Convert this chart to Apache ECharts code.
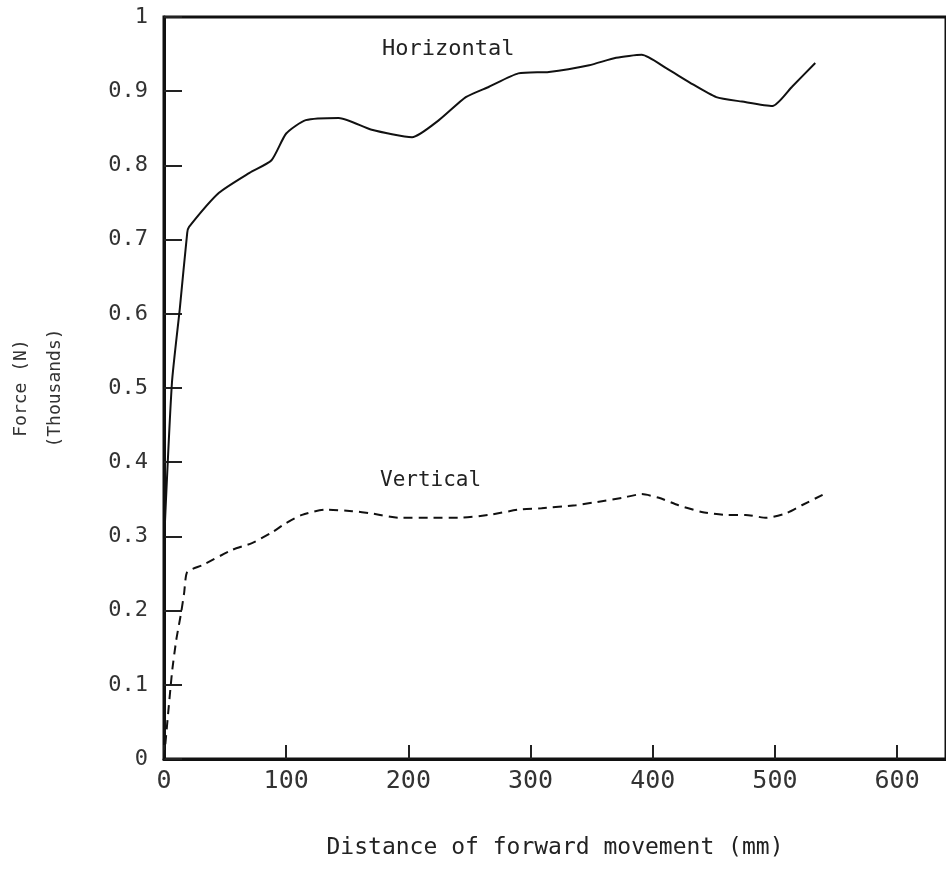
<!DOCTYPE html>
<html>
<head>
<meta charset="utf-8">
<script src="https://cdn.jsdelivr.net/npm/echarts@6/dist/echarts.min.js"></script>
<style>html,body{margin:0;padding:0;background:#fff;}#c{width:946px;height:869px;}</style>
</head>
<body>
<div id="c"></div>
<script>
const xTicks = [0, 100, 200, 300, 400, 500, 600];
const yTicks = [0, 0.1, 0.2, 0.3, 0.4, 0.5, 0.6, 0.7, 0.8, 0.9, 1];
const horizontalX = [0, 6.5, 13, 19, 20.5, 45, 70, 88, 100, 116, 143, 170, 203, 225, 247, 266, 290, 315, 348, 370, 391, 411, 430, 452, 473, 498, 514, 533];
const horizontalY = [0.29, 0.507, 0.608, 0.709, 0.717, 0.763, 0.79, 0.807, 0.843, 0.861, 0.864, 0.848, 0.838, 0.861, 0.892, 0.906, 0.924, 0.926, 0.935, 0.945, 0.949, 0.931, 0.912, 0.892, 0.886, 0.880, 0.906, 0.938];
const verticalX = [0, 6.5, 10, 14, 16.5, 19, 31, 56, 72, 88, 100, 113, 132, 154, 170, 192, 219, 241, 266, 290, 309, 337, 353, 375, 391, 405, 421, 440, 460, 476, 493, 509, 522, 539];
const verticalY = [0, 0.116, 0.16, 0.197, 0.224, 0.252, 0.261, 0.282, 0.291, 0.305, 0.318, 0.329, 0.336, 0.334, 0.331, 0.325, 0.325, 0.325, 0.329, 0.336, 0.338, 0.342, 0.346, 0.352, 0.357, 0.352, 0.342, 0.333, 0.329, 0.329, 0.325, 0.331, 0.342, 0.356];
const seriesNames = ['Horizontal', 'Vertical'];
const xTitle = 'Distance of forward movement (mm)';
const yTitle = 'Force (N)\n(Thousands)';

const hData = horizontalX.map((x, i) => [x, horizontalY[i]]);
const vData = verticalX.map((x, i) => [x, verticalY[i]]);

const chart = echarts.init(document.getElementById('c'), null, {renderer: 'canvas'});
const font = 'DejaVu Sans Mono';
chart.setOption({
  animation: false,
  backgroundColor: '#fff',
  grid: {left: 164, right: 0, top: 17, bottom: 110, outerBoundsMode: 'none', containLabel: false,
         show: true, borderColor: '#111', borderWidth: 3, backgroundColor: 'transparent'},
  xAxis: {
    type: 'value', min: 0, max: 640, interval: 100,
    name: xTitle, nameLocation: 'middle', nameGap: 78,
    nameTextStyle: {fontFamily: font, fontSize: 23, color: '#222'},
    axisLine: {show: true, lineStyle: {color: '#111', width: 3}},
    axisTick: {show: true, inside: true, length: 14, lineStyle: {color: '#222', width: 2}},
    axisLabel: {fontFamily: font, fontSize: 25, color: '#333', margin: 10, showMaxLabel: false,
      formatter: v => xTicks.includes(v) ? String(v) : ''},
    splitLine: {show: false}
  },
  yAxis: {
    type: 'value', min: 0, max: 1, interval: 0.1,
    name: yTitle, nameLocation: 'middle', nameGap: 92, nameRotate: 90,
    nameTextStyle: {fontFamily: font, fontSize: 18, color: '#333', lineHeight: 34},
    axisLine: {show: true, lineStyle: {color: '#111', width: 3}},
    axisTick: {show: true, inside: true, length: 18, lineStyle: {color: '#222', width: 2}},
    axisLabel: {fontFamily: font, fontSize: 22, color: '#333', margin: 16,
      formatter: v => { const t = yTicks.find(y => Math.abs(y - v) < 1e-6); return t === undefined ? '' : String(t); }},
    splitLine: {show: false}
  },
  series: [
    {name: seriesNames[0], type: 'line', data: hData, showSymbol: false, smooth: 0.2,
     lineStyle: {color: '#111', width: 2}},
    {name: seriesNames[1], type: 'line', data: vData, showSymbol: false, smooth: 0.2,
     lineStyle: {color: '#111', width: 2, type: [9, 6]}}
  ],
  graphic: [
    {type: 'text', left: 382, top: 38, style: {text: seriesNames[0], font: '22px "DejaVu Sans Mono"', fill: '#222'}},
    {type: 'text', left: 380, top: 470, style: {text: seriesNames[1], font: '21px "DejaVu Sans Mono"', fill: '#222'}}
  ]
});
</script>
</body>
</html>
